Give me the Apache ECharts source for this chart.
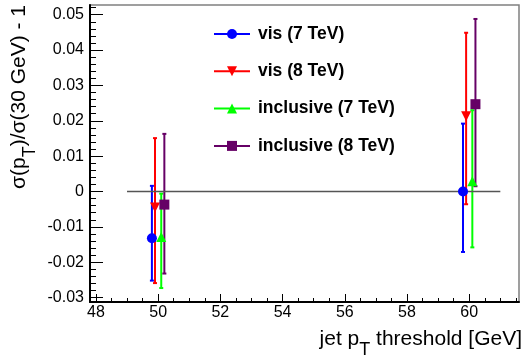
<!DOCTYPE html>
<html>
<head>
<meta charset="utf-8">
<script src="https://cdn.jsdelivr.net/npm/echarts@6/dist/echarts.min.js"></script>
<style>
  html, body { margin: 0; padding: 0; background: #fff; }
  #chart { width: 526px; height: 360px; }
</style>
</head>
<body>
<div id="chart"></div>
<script>
// jet pT thresholds, one small horizontal shift per sample
const xVis7 = [49.8, 59.8];
const xVis8 = [49.9, 59.9];
const xInc7 = [50.1, 60.1];
const xInc8 = [50.2, 60.2];

// central values and error bar ends
const yVis7 = [-0.0132, 0.0000];
const loVis7 = [-0.0252, -0.0171];
const hiVis7 = [0.0016, 0.0192];

const yVis8 = [-0.0045, 0.0213];
const loVis8 = [-0.0259, -0.0036];
const hiVis8 = [0.0151, 0.0449];

const yInc7 = [-0.0129, 0.0029];
const loInc7 = [-0.0273, -0.0158];
const hiInc7 = [-0.0006, 0.0230];

const yInc8 = [-0.0037, 0.0247];
const loInc8 = [-0.0232, 0.0015];
const hiInc8 = [0.0163, 0.0488];

// reference line at zero
const zeroLineX = [49, 61];
const zeroLineY = [0, 0];

const seriesNames = ['vis (7 TeV)', 'vis (8 TeV)', 'inclusive (7 TeV)', 'inclusive (8 TeV)'];

// axis ticks
const xTicks = [48, 50, 52, 54, 56, 58, 60];
const xMinorTicks = [48, 48.5, 49, 49.5, 50, 50.5, 51, 51.5, 52, 52.5, 53, 53.5, 54, 54.5, 55, 55.5,
  56, 56.5, 57, 57.5, 58, 58.5, 59, 59.5, 60, 60.5, 61, 61.5];
const yTicks = [-0.03, -0.02, -0.01, 0, 0.01, 0.02, 0.03, 0.04, 0.05];
const yMinorTicks = [-0.03, -0.028, -0.026, -0.024, -0.022, -0.02, -0.018, -0.016, -0.014, -0.012,
  -0.01, -0.008, -0.006, -0.004, -0.002, 0, 0.002, 0.004, 0.006, 0.008, 0.01, 0.012, 0.014, 0.016,
  0.018, 0.02, 0.022, 0.024, 0.026, 0.028, 0.03, 0.032, 0.034, 0.036, 0.038, 0.04, 0.042, 0.044,
  0.046, 0.048, 0.05, 0.052];

const X_MIN = 47.81, X_MAX = 61.6;
const Y_MIN = -0.03125, Y_MAX = 0.05275;
const FONT = 'Liberation Sans';

const chart = echarts.init(document.getElementById('chart'), null, { renderer: 'canvas' });

function zip(a, b, c) {
  return a.map(function (v, i) { return c ? [v, b[i], c[i]] : [v, b[i]]; });
}

function errorBars(xs, lo, hi, color) {
  return {
    type: 'custom',
    silent: true,
    z: 2,
    renderItem: function (params, api) {
      const x = api.value(0);
      const top = api.coord([x, api.value(2)]);
      const bot = api.coord([x, api.value(1)]);
      const cap = 2;
      const st = { stroke: color, lineWidth: 2 };
      return {
        type: 'group',
        children: [
          { type: 'line', shape: { x1: top[0], y1: top[1], x2: bot[0], y2: bot[1] }, style: st },
          { type: 'line', shape: { x1: top[0] - cap, y1: top[1], x2: top[0] + cap, y2: top[1] }, style: st },
          { type: 'line', shape: { x1: bot[0] - cap, y1: bot[1], x2: bot[0] + cap, y2: bot[1] }, style: st }
        ]
      };
    },
    encode: { x: 0, y: [1, 2] },
    data: zip(xs, lo, hi)
  };
}

function markers(name, xs, ys, color, symbol) {
  return {
    name: name,
    type: 'line',
    silent: true,
    z: 4,
    symbol: symbol,
    symbolSize: 10,
    showSymbol: true,
    itemStyle: { color: color },
    lineStyle: { width: 0 },
    data: zip(xs, ys)
  };
}

const option = {
  animation: false,
  backgroundColor: '#fff',
  grid: {
    left: 90, right: 7, top: 5, bottom: 58,
    show: true, borderColor: '#808080', borderWidth: 1.5,
    containLabel: false, outerBoundsMode: 'none'
  },
  legend: {
    orient: 'vertical',
    left: 213,
    top: 25,
    padding: 0,
    itemWidth: 36,
    itemHeight: 12.5,
    itemGap: 19.3,
    data: seriesNames,
    selectedMode: false,
    lineStyle: { width: 2 },
    textStyle: { fontFamily: FONT, fontWeight: 'bold', fontSize: 17.5, color: '#000', padding: [0, 0, 0, 3] }
  },
  xAxis: [
    {
      type: 'value', min: X_MIN, max: X_MAX,
      axisLine: { onZero: false, lineStyle: { color: '#000', width: 2 } },
      axisTick: { inside: true, length: 8, customValues: xTicks, lineStyle: { color: '#000', width: 1 } },
      axisLabel: { customValues: xTicks, fontFamily: FONT, fontSize: 16, color: '#000', margin: 3 },
      splitLine: { show: false }
    },
    {
      type: 'value', min: X_MIN, max: X_MAX, position: 'bottom',
      axisLine: { show: false, onZero: false },
      axisTick: { inside: true, length: 4, customValues: xMinorTicks, lineStyle: { color: '#000', width: 1 } },
      axisLabel: { show: false },
      splitLine: { show: false }
    }
  ],
  yAxis: [
    {
      type: 'value', min: Y_MIN, max: Y_MAX,
      axisLine: { show: true, onZero: false, lineStyle: { color: '#000', width: 2 } },
      axisTick: { show: true, inside: true, length: 13, customValues: yTicks, lineStyle: { color: '#000', width: 1 } },
      axisLabel: { customValues: yTicks, fontFamily: FONT, fontSize: 16, color: '#000', margin: 6 },
      splitLine: { show: false }
    },
    {
      type: 'value', min: Y_MIN, max: Y_MAX, position: 'left',
      axisLine: { show: false, onZero: false },
      axisTick: { show: true, inside: true, length: 6, customValues: yMinorTicks, lineStyle: { color: '#000', width: 1 } },
      axisLabel: { show: false },
      splitLine: { show: false }
    }
  ],
  graphic: [
    {
      type: 'text', x: 19, y: 5, rotation: Math.PI / 2, silent: true,
      style: {
        text: 'σ(p{sub|T})/σ(30 GeV) - 1',
        fontFamily: FONT, fontSize: 21, fill: '#000', lineHeight: 40,
        textAlign: 'right', textVerticalAlign: 'middle',
        rich: { sub: { fontFamily: FONT, fontSize: 18, lineHeight: 18, verticalAlign: 'bottom' } }
      }
    },
    {
      type: 'text', x: 522, y: 339, silent: true,
      style: {
        text: 'jet p{sub|T} threshold [GeV]',
        fontFamily: FONT, fontSize: 21, fill: '#000', lineHeight: 40,
        textAlign: 'right', textVerticalAlign: 'middle',
        rich: { sub: { fontFamily: FONT, fontSize: 18, lineHeight: 18, verticalAlign: 'bottom' } }
      }
    }
  ],
  series: [
    errorBars(xVis7, loVis7, hiVis7, '#0000ff'),
    errorBars(xVis8, loVis8, hiVis8, '#ff0000'),
    errorBars(xInc7, loInc7, hiInc7, '#00ff00'),
    errorBars(xInc8, loInc8, hiInc8, '#660066'),
    {
      name: 'zero',
      type: 'line',
      silent: true,
      z: 3,
      showSymbol: false,
      lineStyle: { color: '#555', width: 1.5 },
      data: zip(zeroLineX, zeroLineY)
    },
    markers(seriesNames[0], xVis7, yVis7, '#0000ff', 'circle'),
    markers(seriesNames[1], xVis8, yVis8, '#ff0000', 'path://M0,0L10,0L5,10Z'),
    markers(seriesNames[2], xInc7, yInc7, '#00ff00', 'triangle'),
    markers(seriesNames[3], xInc8, yInc8, '#660066', 'rect')
  ]
};

chart.setOption(option);
</script>
</body>
</html>
